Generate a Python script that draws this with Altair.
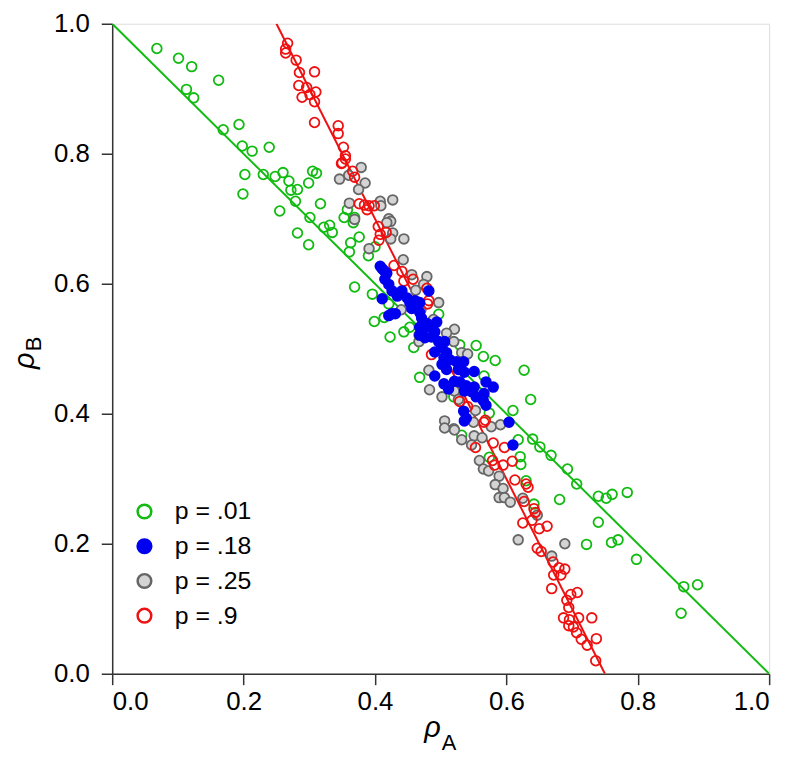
import altair as alt
import pandas as pd

# ---- data ----
green_x = [0.068,0.101,0.121,0.162,0.113,0.124,0.169,0.193,0.198,0.213,0.239,0.202,0.199,0.230,0.248,0.260,0.269,0.272,0.282,0.279,
           0.255,0.299,0.305,0.311,0.317,0.301,0.322,0.331,0.335,0.282,0.299,0.358,0.353,0.369,0.367,0.376,0.363,0.361,0.390,0.400,
           0.369,0.396,0.421,0.414,0.423,0.444,0.459,0.453,0.497,0.554,0.565,0.583,0.529,0.627,0.468,0.566,0.637,0.610,0.520,0.574,
           0.618,0.640,0.651,0.668,0.693,0.707,0.621,0.622,0.630,0.681,0.642,0.740,0.752,0.761,0.784,0.740,0.722,0.760,0.770,0.798,
           0.870,0.891,0.866,0.574,0.532,0.399]
green_y = [0.962,0.947,0.934,0.913,0.899,0.886,0.837,0.845,0.812,0.804,0.810,0.768,0.738,0.768,0.765,0.771,0.758,0.744,0.745,0.727,
           0.712,0.755,0.773,0.770,0.723,0.702,0.687,0.690,0.679,0.678,0.660,0.714,0.702,0.702,0.694,0.672,0.663,0.649,0.643,0.657,
           0.595,0.584,0.569,0.548,0.518,0.526,0.502,0.533,0.553,0.505,0.488,0.482,0.506,0.467,0.456,0.458,0.422,0.405,0.426,0.401,
           0.360,0.361,0.349,0.336,0.315,0.292,0.334,0.322,0.297,0.268,0.261,0.273,0.270,0.276,0.279,0.233,0.199,0.202,0.206,0.176,
           0.134,0.137,0.093,0.333,0.367,0.542]

gray_x = [0.379,0.360,0.346,0.385,0.375,0.361,0.408,0.427,0.409,0.369,0.421,0.424,0.418,0.427,0.424,0.444,0.391,0.443,0.456,0.479,
          0.474,0.497,0.521,0.509,0.520,0.532,0.541,0.467,0.467,0.482,0.483,0.502,0.521,0.527,0.553,0.506,0.520,0.550,0.577,0.591,
          0.506,0.521,0.532,0.551,0.563,0.547,0.559,0.565,0.573,0.589,0.583,0.595,0.589,0.597,0.606,0.625,0.647,0.618,0.689,0.669,
          0.462,0.470,0.489,0.440]
gray_y = [0.779,0.767,0.761,0.755,0.745,0.724,0.727,0.729,0.720,0.699,0.700,0.696,0.694,0.678,0.669,0.669,0.654,0.637,0.614,0.611,
          0.599,0.571,0.530,0.524,0.511,0.494,0.492,0.511,0.521,0.467,0.437,0.426,0.435,0.422,0.405,0.389,0.377,0.387,0.380,0.383,
          0.378,0.375,0.360,0.366,0.363,0.352,0.328,0.315,0.312,0.304,0.291,0.285,0.271,0.271,0.264,0.270,0.244,0.206,0.200,0.181,
          0.590,0.560,0.545,0.560]

red_x = [0.267,0.264,0.264,0.280,0.285,0.308,0.284,0.296,0.310,0.289,0.301,0.308,0.308,0.344,0.344,0.352,0.355,0.350,0.355,0.349,
         0.366,0.369,0.376,0.384,0.391,0.399,0.388,0.405,0.408,0.417,0.406,0.429,0.441,0.444,0.458,0.479,0.482,0.480,0.486,0.529,
         0.541,0.566,0.568,0.580,0.553,0.597,0.579,0.582,0.595,0.609,0.613,0.630,0.633,0.627,0.642,0.644,0.625,0.639,0.650,0.662,
         0.647,0.653,0.671,0.680,0.689,0.672,0.683,0.669,0.698,0.708,0.692,0.695,0.687,0.696,0.710,0.730,0.695,0.702,0.707,0.714,
         0.723,0.737,0.736]
red_y = [0.970,0.961,0.955,0.944,0.925,0.926,0.905,0.902,0.895,0.887,0.891,0.880,0.848,0.843,0.831,0.810,0.797,0.786,0.792,0.785,
         0.773,0.764,0.723,0.721,0.720,0.720,0.714,0.688,0.676,0.679,0.667,0.628,0.619,0.604,0.607,0.593,0.574,0.569,0.491,0.419,
         0.411,0.387,0.390,0.355,0.348,0.348,0.328,0.321,0.321,0.327,0.298,0.292,0.287,0.265,0.254,0.248,0.232,0.236,0.223,0.227,
         0.193,0.188,0.172,0.163,0.161,0.152,0.152,0.131,0.122,0.125,0.113,0.102,0.086,0.083,0.086,0.086,0.074,0.072,0.063,0.053,
         0.044,0.054,0.020]

blue_x = [0.411,0.418,0.415,0.421,0.426,0.411,0.434,0.441,0.449,0.453,0.461,0.468,0.482,0.456,0.464,0.468,0.426,0.431,0.471,0.479,
          0.468,0.476,0.486,0.494,0.491,0.468,0.476,0.486,0.497,0.506,0.502,0.491,0.509,0.505,0.514,0.502,0.524,0.535,0.509,0.527,
          0.536,0.551,0.491,0.505,0.512,0.521,0.529,0.539,0.551,0.547,0.536,0.569,0.580,0.566,0.554,0.565,0.569,0.535,0.539,0.536,
          0.604,0.408,0.414,0.610,0.421]
blue_y = [0.623,0.616,0.607,0.599,0.589,0.577,0.581,0.589,0.578,0.571,0.574,0.571,0.589,0.562,0.563,0.556,0.554,0.554,0.547,0.539,
          0.533,0.532,0.533,0.541,0.526,0.521,0.517,0.518,0.511,0.511,0.502,0.495,0.494,0.486,0.483,0.476,0.480,0.480,0.468,0.468,
          0.464,0.465,0.458,0.446,0.438,0.450,0.449,0.443,0.441,0.434,0.435,0.449,0.441,0.431,0.426,0.420,0.413,0.404,0.393,0.389,
          0.387,0.627,0.620,0.352,0.551]

groups = ["p = .01", "p = .18", "p = .25", "p = .9"]
stroke_colors = ["#11bb11", "#0000f0", "#666666", "#ee1111"]
fill_colors = ["transparent", "#0000f0", "#d4d4d4", "transparent"]

line_green_x = [0.0, 1.0]
line_green_y = [1.0, 0.0]
line_red_x = [0.25, 0.75]
line_red_y = [1.0, 0.0]

# ---- build tables ----
frames = []
for gx, gy, g in [(green_x, green_y, groups[0]), (gray_x, gray_y, groups[2]),
                  (red_x, red_y, groups[3]), (blue_x, blue_y, groups[1])]:
    frames.append(pd.DataFrame({"x": gx, "y": gy, "p": g}))
pts = pd.concat(frames, ignore_index=True)
pts["o"] = range(len(pts))

lines = pd.concat([
    pd.DataFrame({"x": line_green_x, "y": line_green_y, "l": "green"}),
    pd.DataFrame({"x": line_red_x, "y": line_red_y, "l": "red"}),
], ignore_index=True)

W, H = 662, 655
FONT = "Liberation Sans"
ticks = [0, 0.2, 0.4, 0.6, 0.8, 1.0]

xsc = alt.Scale(domain=[0, 1], nice=False, zero=False)
ysc = alt.Scale(domain=[0, 1], nice=False, zero=False)
xax = alt.Axis(values=ticks, format=".1f", title=None, grid=False, tickSize=11,
               labelFontSize=26, labelPadding=4, labelFont=FONT, labelColor="black",
               domainColor="#333333", tickColor="#333333", domainWidth=1.5, tickWidth=1.5)
yax = alt.Axis(values=ticks, format=".1f", title=None, grid=False, tickSize=11,
               labelFontSize=26, labelPadding=12, labelFont=FONT, labelColor="black",
               domainColor="#333333", tickColor="#333333", domainWidth=1.5, tickWidth=1.5)

line_layer = alt.Chart(lines).mark_line(strokeWidth=2, clip=True).encode(
    x=alt.X("x:Q", scale=xsc, axis=xax),
    y=alt.Y("y:Q", scale=ysc, axis=yax),
    detail="l:N",
    color=alt.Color("l:N", scale=alt.Scale(domain=["green", "red"], range=["#11bb11", "#ee1111"]), legend=None),
)

leg = alt.Legend(title=None, orient="none", legendX=20, legendY=479,
                 labelFontSize=25, labelFont=FONT, labelColor="black",
                 symbolSize=190, symbolStrokeWidth=2.5, labelOffset=18,
                 rowPadding=9, padding=0, symbolType="circle")

pt_layer = alt.Chart(pts).mark_circle(size=95, strokeWidth=1.8, opacity=1).encode(
    x=alt.X("x:Q", scale=xsc, axis=xax),
    y=alt.Y("y:Q", scale=ysc, axis=yax),
    stroke=alt.Stroke("p:N", scale=alt.Scale(domain=groups, range=stroke_colors), legend=leg),
    fill=alt.Fill("p:N", scale=alt.Scale(domain=groups, range=fill_colors), legend=leg),
    order="o:Q",
)

t_rho = pd.DataFrame({"t": ["ρ"]})
t_A = pd.DataFrame({"t": ["A"]})
t_B = pd.DataFrame({"t": ["B"]})

xt1 = alt.Chart(t_rho).mark_text(font=FONT, fontSize=29, fontStyle="italic", align="right",
                                 baseline="alphabetic").encode(
    text="t:N", x=alt.value(331), y=alt.value(719))
xt2 = alt.Chart(t_A).mark_text(font=FONT, fontSize=22, align="left",
                               baseline="alphabetic").encode(
    text="t:N", x=alt.value(332), y=alt.value(732))
yt1 = alt.Chart(t_rho).mark_text(font=FONT, fontSize=29, fontStyle="italic", align="left",
                                 baseline="alphabetic", angle=270).encode(
    text="t:N", x=alt.value(-79), y=alt.value(348))
yt2 = alt.Chart(t_B).mark_text(font=FONT, fontSize=22, align="left",
                               baseline="alphabetic", angle=270).encode(
    text="t:N", x=alt.value(-72), y=alt.value(330))

chart = alt.layer(line_layer, pt_layer, xt1, xt2, yt1, yt2).resolve_scale(
    stroke="shared", fill="shared"
).properties(
    width=W, height=H,
    autosize=alt.AutoSizeParams(type="none"),
    padding={"left": 105, "top": 13, "right": 20, "bottom": 78},
).configure_view(stroke=None).configure(background="white")

chart.save("out.html", embed_options={"renderer": "svg", "actions": False})
